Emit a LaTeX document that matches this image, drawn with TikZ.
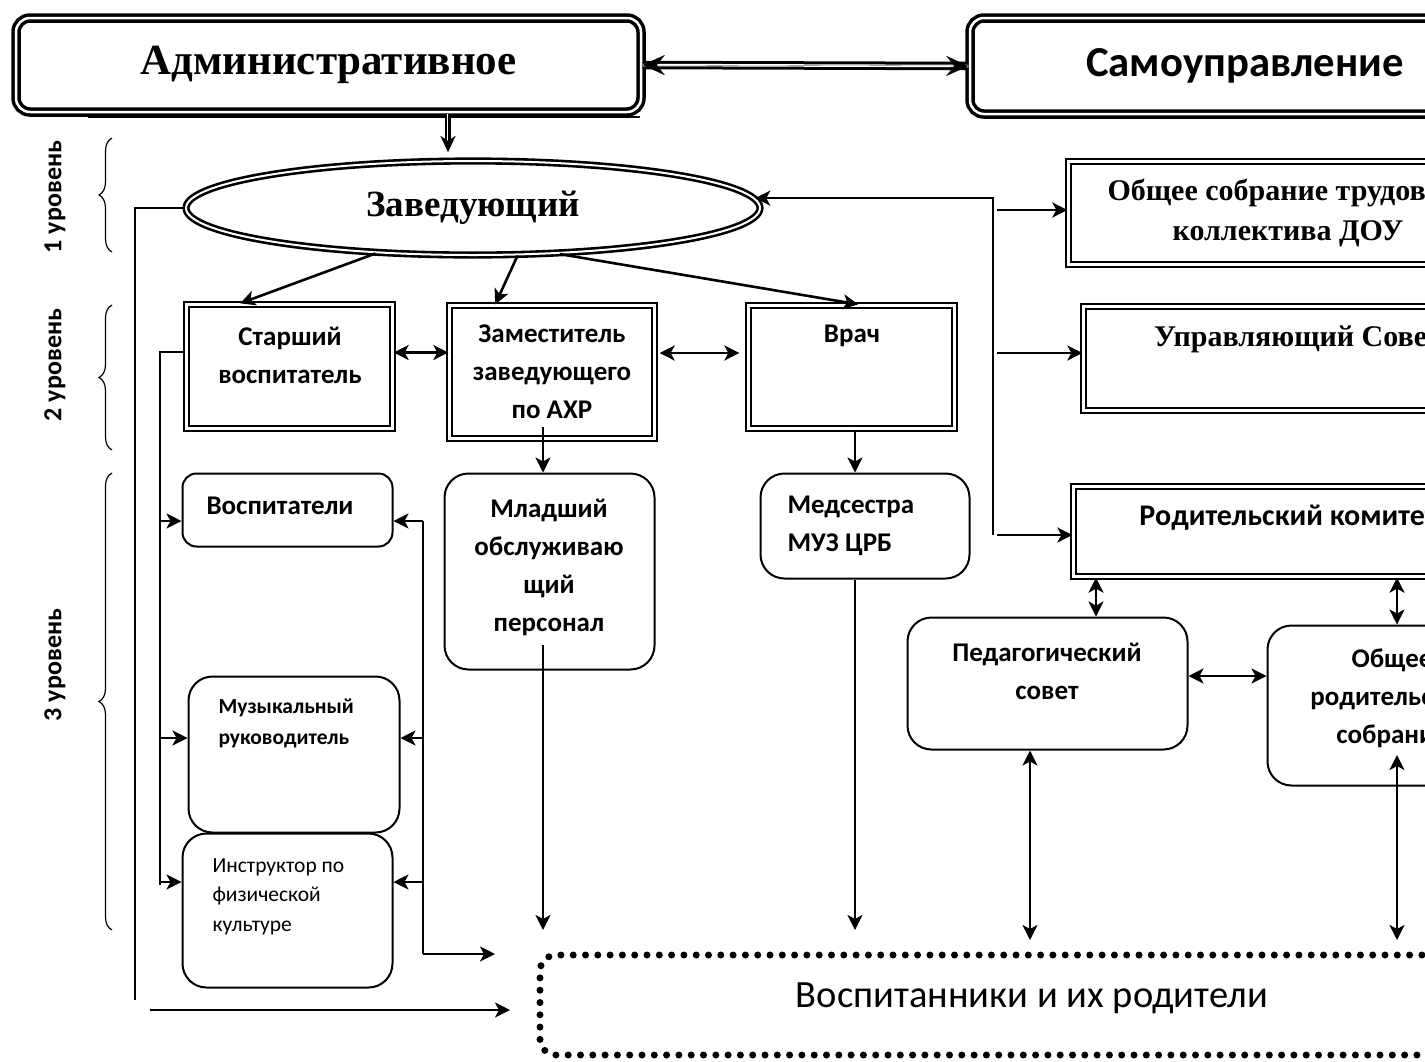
\documentclass[tikz,border=0pt]{standalone}
\usepackage{fontspec}
\setmainfont{Liberation Serif}
\setsansfont{Carlito}
\usetikzlibrary{shapes.geometric,arrows.meta,decorations.pathreplacing}

\begin{document}
\begin{tikzpicture}[x=1pt,y=-1pt,
  tip/.tip={Stealth[length=15pt,width=15pt,inset=4pt]},
  bigtip/.tip={Stealth[length=22pt,width=20pt,inset=8pt]},
  conn/.style={line width=2.2pt},
  arr/.style={line width=2.6pt,-tip},
  darr/.style={line width=2.6pt,tip-tip},
  dbl/.style={double,double distance=2.5pt,line width=3pt},
  topbox/.style={draw,double,double distance=2.5pt,line width=3.5pt,rounded corners=14pt,inner sep=0pt},
  lvlbox/.style={draw,double,double distance=3pt,line width=2.3pt,inner sep=0pt},
  rbox/.style={draw,line width=2pt,rounded corners=24pt,inner sep=0pt},
  oval/.style={ellipse,draw,double,double distance=2pt,line width=2.6pt,inner sep=0pt},
  brc/.style={decorate,decoration={brace,amplitude=13pt},line width=1.2pt},
  serifhd/.style={font=\bfseries\fontsize{43}{48}\selectfont},
  serifmd/.style={font=\bfseries\fontsize{30}{40}\selectfont,align=center},
  sanshd/.style={font=\sffamily\bfseries\fontsize{42.7}{50}\selectfont},
  txt/.style={font=\sffamily\bfseries\fontsize{27}{38}\selectfont,align=center},
  txtl/.style={font=\sffamily\bfseries\fontsize{21.5}{31}\selectfont,align=left},
  txtr/.style={font=\sffamily\fontsize{21.5}{29.5}\selectfont,align=left},
  lvl/.style={font=\sffamily\bfseries\fontsize{26}{28}\selectfont,rotate=90}]
\useasboundingbox (0,0) rectangle (1425,1061);
\clip (0,0) rectangle (1425,1061);

% top row
\node[topbox,minimum width=625,minimum height=94,serifhd] (adm) at (328.5,65) {Административное};
\node[topbox,minimum width=550,minimum height=96,sanshd] (self) at (1245,66) {Самоуправление};
\draw[line width=1.5pt] (88,117) -- (640,117);
\draw[dbl] (adm.east) -- (self.west);
\draw[line width=0.1pt,bigtip-bigtip] (adm.east) -- (self.west);

% level 1
\node[oval,minimum width=574,minimum height=94,font=\bfseries\fontsize{37}{40}\selectfont] (zav) at (473,208) {Заведующий};
\coordinate (zt) at (448,152);
\draw[double,double distance=2pt,line width=2pt,shorten >=8pt] (adm.south -| zt) -- (zt);
\draw[line width=0.1pt,-{Stealth[length=16pt,width=15pt,inset=5pt]}] (adm.south -| zt) -- (zt);

% level 2
\node[lvlbox,minimum width=206,minimum height=124] (st) at (289.5,366.5) {};
\node[txt] (st-t) at (290,355) {Старший\\воспитатель};
\node[lvlbox,minimum width=205,minimum height=133,txt] (zam) at (552,372) {Заместитель\\заведующего\\по АХР};
\node[lvlbox,minimum width=206,minimum height=123] (vr) at (851.5,367) {};
\node[txt] (vr-t) at (852,336) {Врач};

\draw[arr] (zav.205) -- (st.128);
\draw[arr] (zav.313) -- (zam.130);
\draw[arr] (zav.332) -- (vr.84);
\draw[darr] ([yshift=14]st.east) -- ([yshift=14]st.east -| zam.west);
\draw[darr,shorten <=4pt,shorten >=8pt] ([yshift=19]zam.east) -- ([yshift=19]zam.east -| vr.west);

% level 3
\node[rbox,rounded corners=14pt,minimum width=210,minimum height=73] (vos) at (287.5,510) {};
\node[txt] (vos-t) at (280,506) {Воспитатели};
\node[rbox,minimum width=211,minimum height=156] (muz) at (294,754.5) {};
\node[txtl,anchor=west] (muz-t) at (215,723.5) {Музыкальный\\руководитель};
\node[rbox,minimum width=210,minimum height=154] (ins) at (287.5,910.5) {};
\node[txtr,anchor=west] (ins-t) at (209,896.5) {Инструктор по\\физической\\культуре};
\node[rbox,minimum width=210,minimum height=196] (ml) at (549.5,571.5) {};
\node[txt] (ml-t) at (549,567) {Младший\\обслуживаю\\щий\\персонал};
\node[rbox,minimum width=209,minimum height=105] (med) at (865,526) {};
\node[txt,align=left,anchor=west] (med-t) at (784,525.5) {Медсестра\\МУЗ ЦРБ};

% left buses
\draw[conn] (zav.west) -- (135,208) -- (135,1000);
\coordinate (lb) at (160,885);
\draw[conn] ([yshift=14.5]st.west) -| (lb);
\foreach \b/\y in {vos/521,muz/738,ins/882}
  \draw[arr] (lb |- 0,\y) -- (\b.west |- 0,\y);
\coordinate (rb) at (423,954);
\draw[conn] (423,521) -- (rb);
\foreach \b/\y in {vos/521,muz/738,ins/882}
  \draw[arr] (rb |- 0,\y) -- (\b.east |- 0,\y);

% self-government side
\node[lvlbox,minimum width=439,minimum height=103,serifmd] (ot) at (1288,213) {Общее собрание трудового\\коллектива ДОУ};
\node[lvlbox,minimum width=429,minimum height=104] (us) at (1298,358.5) {};
\node[serifmd] (us-t) at (1298,339) {Управляющий Совет};
\node[lvlbox,minimum width=431,minimum height=90] (rk) at (1289,531.5) {};
\node[txt,font=\sffamily\bfseries\fontsize{30}{38}\selectfont] (rk-t) at (1288,518) {Родительский комитет};
\node[rbox,minimum width=280,minimum height=132] (ped) at (1047.5,683.5) {};
\node[txt] (ped-t) at (1047,671) {Педагогический\\совет};
\node[rbox,minimum width=245,minimum height=160] (orc) at (1390,705.5) {};
\node[txt] (orc-t) at (1392,698) {Общее\\родительское\\собрание};

\coordinate (sb) at (993,535);
\draw[arr] (sb) -- (zav.2 -| sb) -- (zav.2);
\foreach \b/\y in {ot/210,us/353,rk/535}
  \draw[arr] (997,\y) -- (\b.west |- 0,\y);
\draw[darr] (rk.south -| 1096,0) -- (ped.north -| 1096,0);
\draw[darr] (rk.south -| 1397,0) -- (orc.north -| 1397,0);
\draw[darr] (ped.east |- 0,676) -- (orc.west |- 0,676);

% pupils
\node[draw,line width=7pt,dash pattern=on 0pt off 12.3pt,line cap=round,rounded corners=16pt,
  minimum width=984,minimum height=100] (pup) at (1032,1005) {};
\node[font=\sffamily\fontsize{38.5}{42}\selectfont] (pup-t) at (1032,998) {Воспитанники и их родители};
\coordinate (p1) at (495,954);
\coordinate (p2) at (510,1010);
\coordinate (p3) at (543,930);
\coordinate (p4) at (855,930);
\coordinate (p5) at (1030,940);
\coordinate (p6) at (1397,940);
\draw[arr] (rb) -- (p1);
\draw[arr] (150,1010) -- (p2);
\draw[arr] (543,427) -- (ml.north -| p3);
\draw[arr] (543,645) -- (p3);
\draw[arr] (vr.south -| p4) -- (med.north -| p4);
\draw[arr] (med.south -| p4) -- (p4);
\draw[darr] (ped.south -| p5) -- (p5);
\draw[darr] (1397,755) -- (p6);

% levels
\node[lvl] (l1) at (55,197) {1 уровень};
\node[lvl] (l2) at (55,365) {2 уровень};
\node[lvl] (l3) at (55,665) {3 уровень};
\draw[brc] (112,252) -- (112,138);
\draw[brc] (112,450) -- (112,305);
\draw[brc] (112,930) -- (112,473);
\end{tikzpicture}
\end{document}
